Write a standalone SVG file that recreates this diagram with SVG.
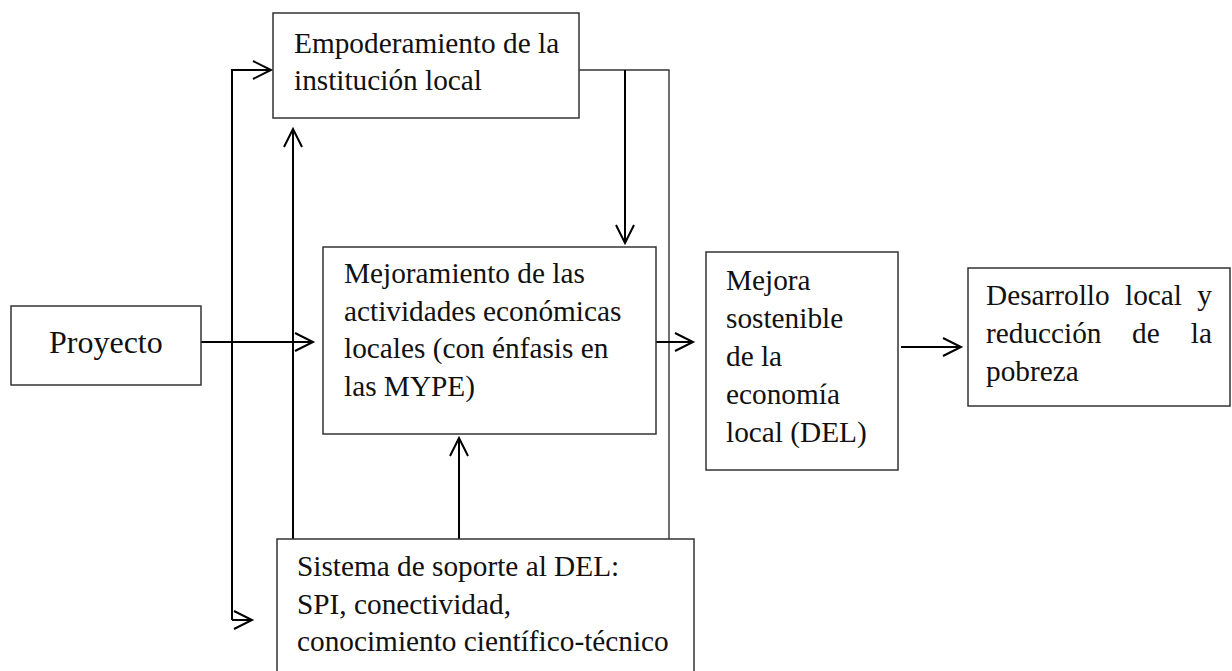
<svg xmlns="http://www.w3.org/2000/svg" width="1232" height="671" viewBox="0 0 1232 671">
<style>
.box{fill:#fff;stroke:#333;stroke-width:1.5}
.t{font-family:"Liberation Serif","Times New Roman",serif;font-size:29.3px;fill:#111}
.c{fill:none;stroke:#000;stroke-width:2}
.thin{fill:none;stroke:#333;stroke-width:1.4}
</style>
<defs>
<marker id="ah" markerUnits="userSpaceOnUse" markerWidth="22" markerHeight="22" refX="19" refY="10" orient="auto" viewBox="0 0 22 22">
<polyline points="1,1 19,10 1,19" fill="none" stroke="#000" stroke-width="2"/>
</marker>
</defs>
<rect width="1232" height="671" fill="#fff"/>
<g id="connectors">
<polyline class="thin" points="579,70 669,70 669,539"/>
<line class="c" x1="625" y1="70" x2="625" y2="243" marker-end="url(#ah)"/>
<polyline class="c" points="232,620 232,70 271,70" marker-end="url(#ah)"/>
<line class="c" x1="232" y1="620" x2="252" y2="620" marker-end="url(#ah)"/>
<line class="c" x1="293" y1="539" x2="293" y2="129" marker-end="url(#ah)"/>
<line class="c" x1="459" y1="539" x2="459" y2="438" marker-end="url(#ah)"/>
<line class="c" x1="201" y1="342" x2="313" y2="342" marker-end="url(#ah)"/>
<line class="c" x1="656" y1="342" x2="693" y2="342" marker-end="url(#ah)"/>
<line class="c" x1="901" y1="347" x2="961" y2="347" marker-end="url(#ah)"/>
</g>
<g id="proyecto">
<rect class="box" x="11" y="306" width="190" height="79"/>
<text class="t" x="49" y="353" style="font-size:32px">Proyecto</text>
</g>
<g id="empoderamiento">
<rect class="box" x="273" y="13" width="306" height="105"/>
<text class="t" x="294" y="53">Empoderamiento de la</text>
<text class="t" x="294" y="90">institución local</text>
</g>
<g id="mejoramiento">
<rect class="box" x="323" y="247" width="333" height="187"/>
<text class="t" x="344" y="283">Mejoramiento de las</text>
<text class="t" x="344" y="320.5">actividades económicas</text>
<text class="t" x="344" y="358">locales (con énfasis en</text>
<text class="t" x="344" y="395.5">las MYPE)</text>
</g>
<g id="mejora">
<rect class="box" x="706" y="252" width="192" height="218"/>
<text class="t" x="726" y="289.5">Mejora</text>
<text class="t" x="726" y="327.5">sostenible</text>
<text class="t" x="726" y="365.5">de la</text>
<text class="t" x="726" y="403.5">economía</text>
<text class="t" x="726" y="441.5">local (DEL)</text>
</g>
<g id="desarrollo">
<rect class="box" x="968" y="268" width="262" height="138"/>
<text class="t" y="305"><tspan x="986">Desarrollo</tspan><tspan x="1125">local</tspan><tspan x="1212" text-anchor="end">y</tspan></text>
<text class="t" y="343"><tspan x="986">reducción</tspan><tspan x="1132">de</tspan><tspan x="1212" text-anchor="end">la</tspan></text>
<text class="t" x="986" y="381">pobreza</text>
</g>
<g id="sistema">
<rect class="box" x="277" y="539" width="417" height="145"/>
<text class="t" x="297" y="576">Sistema de soporte al DEL:</text>
<text class="t" x="297" y="613.5">SPI, conectividad,</text>
<text class="t" x="297" y="651">conocimiento científico-técnico</text>
</g>
</svg>
